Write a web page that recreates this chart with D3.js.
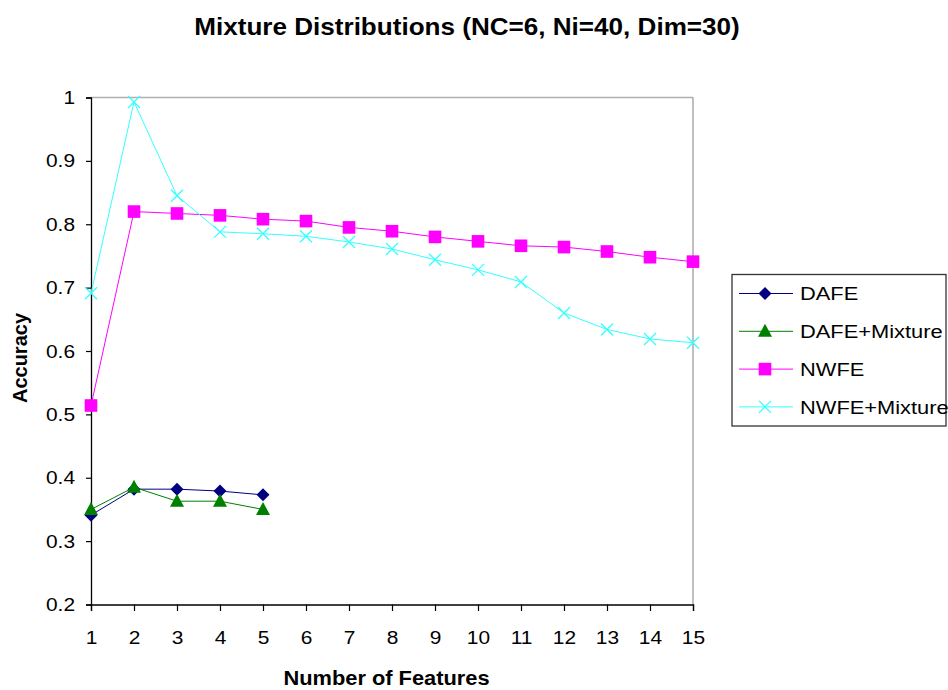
<!DOCTYPE html>
<html><head><meta charset="utf-8">
<script src="https://cdn.jsdelivr.net/npm/d3@7"></script>
<style>body{margin:0;background:#fff;} svg{display:block;font-family:"Liberation Sans",Arial,sans-serif;}</style>
</head><body>
<script>
const features = [1,2,3,4,5,6,7,8,9,10,11,12,13,14,15];
const yTicks = [0.2,0.3,0.4,0.5,0.6,0.7,0.8,0.9,1];
const dafe = [0.341,0.382,0.382,0.379,0.373];
const dafeMix = [0.350,0.385,0.363,0.363,0.350];
const nwfe = [0.514,0.820,0.817,0.814,0.808,0.805,0.795,0.789,0.780,0.773,0.766,0.764,0.757,0.748,0.741];
const nwfeMix = [0.691,0.993,0.845,0.788,0.785,0.781,0.772,0.761,0.744,0.728,0.709,0.660,0.634,0.619,0.613];
const seriesNames = ["DAFE","DAFE+Mixture","NWFE","NWFE+Mixture"];
const seriesColors = ["#000080","#008000","#FF00FF","#33FFFF"];
const seriesSymbols = ["diamond","triangle","square","cross"];
const series = [dafe, dafeMix, nwfe, nwfeMix];

const W=948,H=690;
const svg=d3.select("body").append("svg").attr("width",W).attr("height",H);
const x=d3.scaleLinear().domain([1,15]).range([91,693]);
const y=d3.scaleLinear().domain([0.2,1]).range([604.5,97.5]);

// text placed at (tx,ty) with a horizontal stretch
function stretched(g,tx,ty,s,str,opts){
  const t=g.append("text").attr("transform",`translate(${tx},${ty}) scale(${s},1)`).text(str);
  Object.entries(opts||{}).forEach(([k,v])=>t.attr(k,v));
  return t;
}

// plot border (top/right grey)
svg.append("line").attr("x1",91).attr("x2",693).attr("y1",97.5).attr("y2",97.5).attr("stroke","#b0b0b0").attr("stroke-width",1.6);
svg.append("line").attr("x1",693).attr("x2",693).attr("y1",97.5).attr("y2",604.5).attr("stroke","#808080").attr("stroke-width",1);

const yAx=svg.append("g").attr("transform","translate(91,0)")
  .call(d3.axisLeft(y).tickValues(yTicks).tickSize(5).tickPadding(11).tickFormat(d=>d===1?"1":d3.format(".1f")(d)));
const xAx=svg.append("g").attr("transform","translate(0,604.5)")
  .call(d3.axisBottom(x).tickValues(features).tickSize(6.5).tickPadding(12).tickFormat(d3.format("d")));
[yAx,xAx].forEach(g=>{g.select(".domain").attr("stroke","#000").attr("stroke-width",1.3);
  g.selectAll(".tick line").attr("stroke","#000").attr("stroke-width",1.2);
  g.selectAll("text").attr("font-size",19).attr("fill","#000").attr("font-family","Liberation Sans, Arial, sans-serif");});
const ts=1.1;
yAx.selectAll(".tick text").each(function(){const t=d3.select(this);const xx=+t.attr("x");t.attr("x",xx/ts).attr("transform",`scale(${ts},1)`);});
xAx.selectAll(".tick text").attr("y",39.5).attr("dy",0).attr("transform",`scale(${ts},1)`);

function marker(g,type,cx,cy,color){
  if(type==="diamond"){
    g.append("path").attr("d",`M${cx},${cy-6.5}L${cx+6.5},${cy}L${cx},${cy+6.5}L${cx-6.5},${cy}Z`).attr("fill",color);
  } else if(type==="triangle"){
    g.append("path").attr("d",`M${cx},${cy-7.5}L${cx+7},${cy+5.5}L${cx-7},${cy+5.5}Z`).attr("fill",color);
  } else if(type==="square"){
    g.append("rect").attr("x",cx-6.3).attr("y",cy-6.3).attr("width",12.6).attr("height",12.6).attr("fill",color);
  } else {
    g.append("path").attr("d",`M${cx-6},${cy-6}L${cx+6},${cy+6}M${cx-6},${cy+6}L${cx+6},${cy-6}`).attr("stroke",color).attr("stroke-width",1.3).attr("fill","none");
  }
}

const line=d3.line().x((d,i)=>x(features[i])).y(d=>y(d));
series.forEach((s,k)=>{
  const g=svg.append("g");
  g.append("path").datum(s).attr("d",line).attr("fill","none").attr("stroke",seriesColors[k]).attr("stroke-width",1);
  s.forEach((v,i)=>marker(g,seriesSymbols[k],x(features[i]),y(v),seriesColors[k]));
});

// title & axis titles
stretched(svg,467,35,1.11,"Mixture Distributions (NC=6, Ni=40, Dim=30)",{"text-anchor":"middle","font-size":23.5,"font-weight":"bold"});
stretched(svg,386.5,685,1.12,"Number of Features",{"text-anchor":"middle","font-size":19.5,"font-weight":"bold"});
svg.append("text").attr("transform","translate(27,358) rotate(-90)").attr("text-anchor","middle").attr("font-size",20).attr("font-weight","bold").text("Accuracy");

// legend
const lg=svg.append("g");
lg.append("rect").attr("x",732).attr("y",274.5).attr("width",214).attr("height",151.5).attr("fill","#fff").attr("stroke","#333").attr("stroke-width",1.3);
seriesNames.forEach((n,k)=>{
  const cy=293.5+k*37.8;
  lg.append("line").attr("x1",739).attr("x2",793).attr("y1",cy).attr("y2",cy).attr("stroke",seriesColors[k]).attr("stroke-width",1);
  marker(lg,seriesSymbols[k],765,cy,seriesColors[k]);
  stretched(lg,800,cy+6.7,1.15,n,{"font-size":19});
});
</script>
</body></html>
